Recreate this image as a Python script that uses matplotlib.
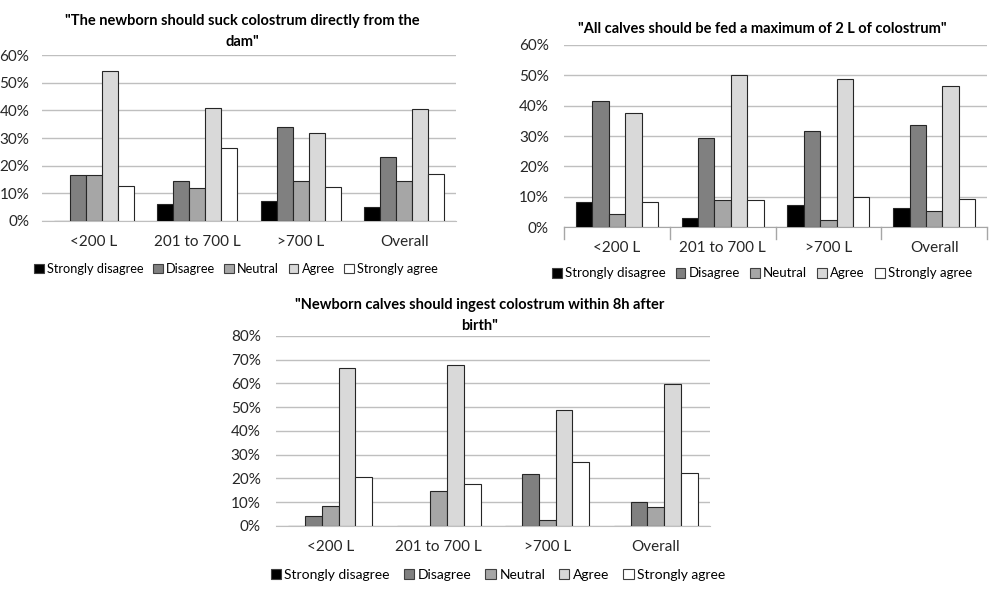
import matplotlib
matplotlib.use("Agg")
import matplotlib.pyplot as plt
from matplotlib.patches import Patch
import numpy as np

plt.rcParams["font.family"] = ["Lato", "DejaVu Sans"]

categories = ["<200 L", "201 to 700 L", ">700 L", "Overall"]
responses = ["Strongly disagree", "Disagree", "Neutral", "Agree", "Strongly agree"]
colors = ["#000000", "#808080", "#a6a6a6", "#d9d9d9", "#ffffff"]

# values in %, one list per response, ordered as categories
suck_dam = {
    "Strongly disagree": [0, 6.0, 7.2, 4.9],
    "Disagree":          [16.7, 14.5, 34.1, 23.2],
    "Neutral":           [16.7, 11.9, 14.6, 14.3],
    "Agree":             [54.2, 41.0, 31.7, 40.5],
    "Strongly agree":    [12.5, 26.5, 12.2, 17.1],
}
max_2l = {
    "Strongly disagree": [8.3, 3.0, 7.3, 6.1],
    "Disagree":          [41.7, 29.4, 31.7, 33.5],
    "Neutral":           [4.2, 8.8, 2.4, 5.2],
    "Agree":             [37.5, 50.0, 48.8, 46.5],
    "Strongly agree":    [8.3, 8.8, 9.8, 9.2],
}
within_8h = {
    "Strongly disagree": [0, 0, 0, 0],
    "Disagree":          [4.2, 0, 22.0, 10.1],
    "Neutral":           [8.3, 14.7, 2.4, 8.0],
    "Agree":             [66.7, 67.6, 48.8, 59.8],
    "Strongly agree":    [20.8, 17.6, 26.8, 22.4],
}

fig = plt.figure(figsize=(10.04, 5.89), dpi=100)

# data, axes rect, ymax, title, title pos, ticks, legend pos, y pad, legend font, col spacing
panels = [
    (suck_dam, [0.0418, 0.6248, 0.4124, 0.2818], 60,
     '"The newborn should suck colostrum directly from the\ndam"', (0.241, 0.976),
     False, (0.235, 0.543), 9, 9.2, 0.75),
    (max_2l, [0.5618, 0.6146, 0.4213, 0.3090], 60,
     '"All calves should be fed a maximum of 2 L of colostrum"', (0.759, 0.962),
     True, (0.759, 0.536), 11, 9.5, 0.75),
    (within_8h, [0.2749, 0.1070, 0.4323, 0.3226], 80,
     '"Newborn calves should ingest colostrum within 8h after\nbirth"', (0.478, 0.494),
     False, (0.496, 0.0245), 11, 10, 1.0),
]

bw = 0.155
x = np.arange(len(categories))
for data, rect, ymax, title, tpos, ticks, lpos, ypad, lfs, csp in panels:
    ax = fig.add_axes(rect)
    for i, r in enumerate(responses):
        ax.bar(x + (i - 2) * bw, data[r], bw, color=colors[i],
               edgecolor="#262626", linewidth=0.8, zorder=3)
    ax.set_xlim(-0.5, len(categories) - 0.5)
    ax.set_ylim(0, ymax)
    ax.set_yticks(np.arange(0, ymax + 1, 10))
    ax.set_yticklabels([f"{v}%" for v in range(0, ymax + 1, 10)], fontsize=11, color="#262626")
    ax.set_xticks(x)
    ax.set_xticklabels(categories, fontsize=11, color="#262626")
    ax.tick_params(axis="y", length=0, pad=ypad)
    ax.tick_params(axis="x", length=0, pad=10)
    ax.grid(axis="y", color="#bfbfbf", linewidth=1, zorder=0)
    for s in ["top", "right", "left"]:
        ax.spines[s].set_visible(False)
    ax.spines["bottom"].set_color("#a6a6a6" if ticks else "#bfbfbf")
    if ticks:
        for b in np.arange(-0.5, len(categories), 1):
            ax.plot([b, b], [0, -0.065], transform=ax.get_xaxis_transform(),
                    color="#a6a6a6", linewidth=1, clip_on=False)
    fig.text(tpos[0], tpos[1], title, ha="center", va="top", fontsize=10.5,
             fontweight="bold", linespacing=1.6)
    handles = [Patch(facecolor=colors[i], edgecolor="#404040", linewidth=0.8, label=r)
               for i, r in enumerate(responses)]
    fig.legend(handles=handles, loc="center", bbox_to_anchor=lpos, ncol=5,
               frameon=False, fontsize=lfs, handlelength=0.75, handleheight=0.75,
               handletextpad=0.25, columnspacing=csp)

fig.savefig("out.png", dpi=100)
